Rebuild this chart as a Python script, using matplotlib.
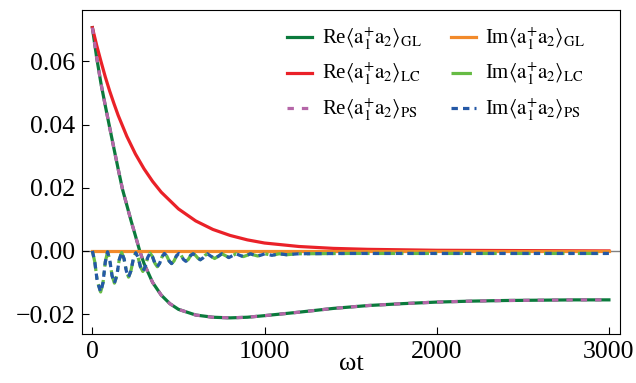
import numpy as np
import matplotlib
matplotlib.use("Agg")
import matplotlib.pyplot as plt

plt.rcParams['font.family'] = ['Liberation Serif', 'DejaVu Serif']
plt.rcParams['mathtext.fontset'] = 'stix'

# Re<a1+ a2>, GL and PS (same curve)
t_re = [0, 25, 50, 75, 100, 125, 150, 175, 200, 225, 250, 275, 300, 350, 400, 450,
        500, 600, 700, 800, 900, 1000, 1200, 1400, 1600, 1800, 2000, 2200, 2400,
        2600, 2800, 3000]
re_gl = [0.0707, 0.0612, 0.0530, 0.0460, 0.0392, 0.0325, 0.0259, 0.0195, 0.0145,
         0.0095, 0.0048, 0.0000, -0.0040, -0.0100, -0.0140, -0.0167, -0.0185,
         -0.0203, -0.0210, -0.0212, -0.0210, -0.0205, -0.0194, -0.0182, -0.0173,
         -0.0167, -0.0162, -0.0159, -0.0157, -0.0156, -0.0155, -0.0155]

# Re<a1+ a2>, LC
t_lc = [0, 25, 50, 75, 100, 125, 150, 200, 250, 300, 350, 400, 500, 600, 700, 800,
        900, 1000, 1200, 1400, 1600, 2000, 2500, 3000]
re_lc = [0.0707, 0.0651, 0.0600, 0.0551, 0.0507, 0.0467, 0.0429, 0.0363, 0.0307,
         0.0260, 0.0220, 0.0186, 0.0133, 0.0095, 0.0068, 0.0049, 0.0035, 0.0025,
         0.0014, 0.0008, 0.0005, 0.0002, 0.0001, 0.0000]

# Im<a1+ a2>, LC and PS (damped oscillation)
t_im = [0, 14, 28, 48, 62, 75, 88, 101, 114, 128, 142, 156, 170, 184, 197, 210,
        224, 238, 252, 266, 279, 293, 307, 321, 335, 349, 363, 377, 391, 405, 418,
        432, 446, 460, 474, 488, 502, 516, 529, 543, 557, 571, 585, 599, 613, 627,
        641, 655, 668, 689, 710, 731, 752, 773, 793, 814, 835, 856, 877, 898, 918,
        939, 960, 981, 1002, 1043, 1085, 1127, 1200, 1500, 2000, 3000]
im_lc = [0.0000, -0.0035, -0.0095, -0.0130, -0.0100, -0.0035, -0.0003, -0.0028,
         -0.0078, -0.0102, -0.0078, -0.0028, -0.0005, -0.0025, -0.0063, -0.0083,
         -0.0063, -0.0025, -0.0006, -0.0021, -0.0050, -0.0065, -0.0050, -0.0021,
         -0.0007, -0.0018, -0.0039, -0.0050, -0.0039, -0.0018, -0.0008, -0.0016,
         -0.0032, -0.0040, -0.0032, -0.0016, -0.0008, -0.0014, -0.0027, -0.0033,
         -0.0027, -0.0014, -0.0009, -0.0014, -0.0023, -0.0028, -0.0023, -0.0014,
         -0.0009, -0.0017, -0.0024, -0.0017, -0.0009, -0.0015, -0.0021, -0.0015,
         -0.0009, -0.0014, -0.0018, -0.0014, -0.0009, -0.0013, -0.0016, -0.0013,
         -0.0009, -0.0014, -0.0009, -0.0012, -0.0009, -0.0008, -0.0008, -0.0008]

# Im<a1+ a2>, GL
t_im_gl = [0, 3000]
im_gl = [0.0, 0.0]

fig, ax = plt.subplots(figsize=(6.36, 3.83), dpi=100)
fig.subplots_adjust(left=0.129, right=0.975, top=0.974, bottom=0.128)

ax.axhline(0, color='gray', lw=1, zorder=0)

ax.plot(t_re, re_gl, color='#0b7a3c', lw=2.3, label=r'Re$\langle\mathrm{a}_1^{+}\mathrm{a}_2\rangle_{\mathrm{GL}}$')
ax.plot(t_lc, re_lc, color='#ea2128', lw=2.3, label=r'Re$\langle\mathrm{a}_1^{+}\mathrm{a}_2\rangle_{\mathrm{LC}}$')
ax.plot(t_re, re_gl, color='#b566a8', lw=2.3, ls=(0, (2, 2.5)), label=r'Re$\langle\mathrm{a}_1^{+}\mathrm{a}_2\rangle_{\mathrm{PS}}$')
ax.plot(t_im_gl, im_gl, color='#f28a2a', lw=2.3, label=r'Im$\langle\mathrm{a}_1^{+}\mathrm{a}_2\rangle_{\mathrm{GL}}$')
ax.plot(t_im, im_lc, color='#66bb44', lw=2.3, ls='-.', label=r'Im$\langle\mathrm{a}_1^{+}\mathrm{a}_2\rangle_{\mathrm{LC}}$')
ax.plot(t_im, im_lc, color='#2458a6', lw=2.3, ls=(0, (2, 1.6)), label=r'Im$\langle\mathrm{a}_1^{+}\mathrm{a}_2\rangle_{\mathrm{PS}}$')

ax.set_xlim(-60, 3065)
ax.set_ylim(-0.0263, 0.0763)
ax.set_xticks([0, 1000, 2000, 3000])
ax.set_yticks([-0.02, 0.0, 0.02, 0.04, 0.06])
ax.set_yticklabels(['\u22120.02', '0.00', '0.02', '0.04', '0.06'])
ax.tick_params(direction='in', labelsize=18.5, length=5, pad=5)
ax.set_xlabel('\u03c9t', fontsize=19, labelpad=-7)

ax.legend(ncol=2, loc='upper right', bbox_to_anchor=(0.95, 0.978),
          borderaxespad=0, frameon=False, fontsize=15,
          handlelength=1.2, columnspacing=1.4, labelspacing=0.45,
          handletextpad=0.45)

plt.savefig("out.png")
